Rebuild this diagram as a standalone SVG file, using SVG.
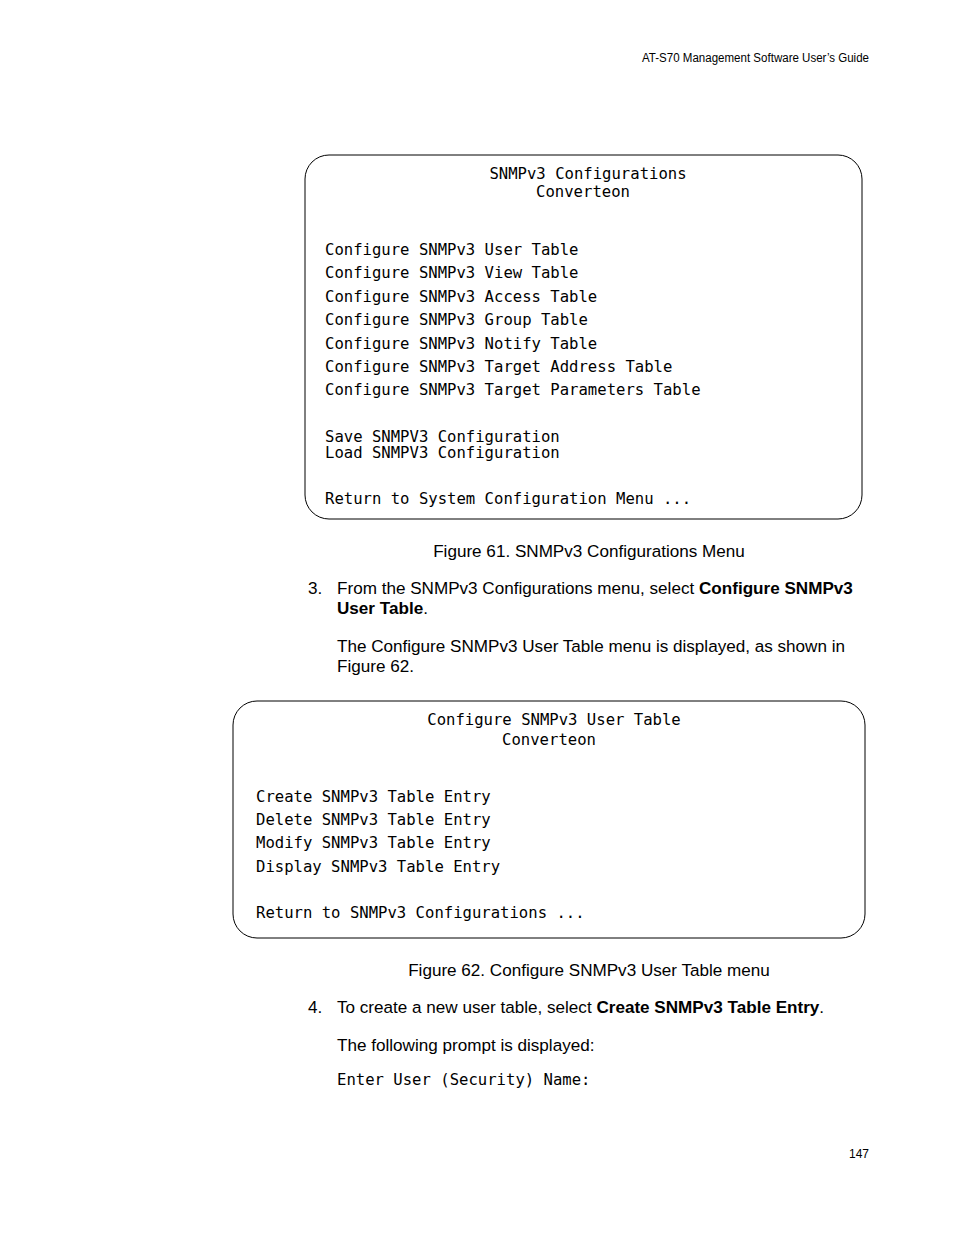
<svg xmlns="http://www.w3.org/2000/svg" width="954" height="1235" viewBox="0 0 954 1235">
<style>
.m{font-family:"DejaVu Sans Mono",monospace;font-size:15.6px;fill:#000}
.b{font-family:"Liberation Sans",Arial,sans-serif;font-size:17.1px;fill:#000}
.s{font-family:"Liberation Sans",Arial,sans-serif;font-size:12px;fill:#000}
.box{fill:none;stroke:#000;stroke-width:1}
</style>
<rect width="954" height="1235" fill="#fff"/>
<text class="s" x="869" y="62" text-anchor="end" textLength="227" lengthAdjust="spacingAndGlyphs">AT-S70 Management Software User’s Guide</text>
<g id="fig61">
<rect class="box" x="305" y="155" width="557" height="364" rx="24"/>
<text class="m" x="588" y="179" text-anchor="middle">SNMPv3 Configurations</text>
<text class="m" x="583" y="197" text-anchor="middle">Converteon</text>
<text class="m" x="325" y="255">Configure SNMPv3 User Table</text>
<text class="m" x="325" y="278">Configure SNMPv3 View Table</text>
<text class="m" x="325" y="302">Configure SNMPv3 Access Table</text>
<text class="m" x="325" y="325">Configure SNMPv3 Group Table</text>
<text class="m" x="325" y="349">Configure SNMPv3 Notify Table</text>
<text class="m" x="325" y="372">Configure SNMPv3 Target Address Table</text>
<text class="m" x="325" y="395">Configure SNMPv3 Target Parameters Table</text>
<text class="m" x="325" y="442">Save SNMPV3 Configuration</text>
<text class="m" x="325" y="458">Load SNMPV3 Configuration</text>
<text class="m" x="325" y="504">Return to System Configuration Menu ...</text>
</g>
<text class="b" x="589" y="557" text-anchor="middle">Figure 61. SNMPv3 Configurations Menu</text>
<text class="b" x="308" y="594">3.</text>
<text class="b" x="337" y="594">From the SNMPv3 Configurations menu, select <tspan font-weight="bold">Configure SNMPv3</tspan></text>
<text class="b" x="337" y="614"><tspan font-weight="bold">User Table</tspan>.</text>
<text class="b" x="337" y="652">The Configure SNMPv3 User Table menu is displayed, as shown in</text>
<text class="b" x="337" y="672">Figure 62.</text>
<g id="fig62">
<rect class="box" x="233" y="701" width="632" height="237" rx="24"/>
<text class="m" x="554" y="725" text-anchor="middle">Configure SNMPv3 User Table</text>
<text class="m" x="549" y="745" text-anchor="middle">Converteon</text>
<text class="m" x="256" y="802">Create SNMPv3 Table Entry</text>
<text class="m" x="256" y="825">Delete SNMPv3 Table Entry</text>
<text class="m" x="256" y="848">Modify SNMPv3 Table Entry</text>
<text class="m" x="256" y="872">Display SNMPv3 Table Entry</text>
<text class="m" x="256" y="918">Return to SNMPv3 Configurations ...</text>
</g>
<text class="b" x="589" y="976" text-anchor="middle">Figure 62. Configure SNMPv3 User Table menu</text>
<text class="b" x="308" y="1013">4.</text>
<text class="b" x="337" y="1013">To create a new user table, select <tspan font-weight="bold">Create SNMPv3 Table Entry</tspan>.</text>
<text class="b" x="337" y="1051">The following prompt is displayed:</text>
<text class="m" x="337" y="1085">Enter User (Security) Name:</text>
<text class="s" x="869" y="1158" text-anchor="end">147</text>
</svg>
